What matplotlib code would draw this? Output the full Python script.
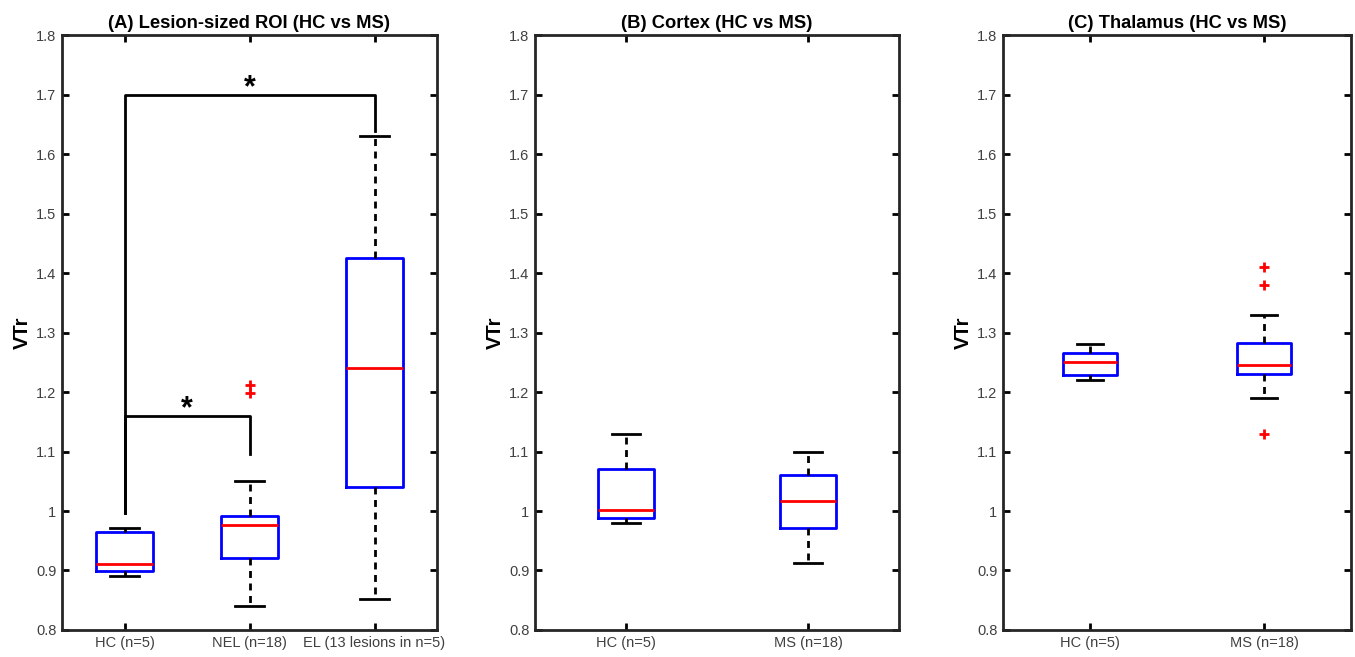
import matplotlib
matplotlib.use("Agg")
import matplotlib.pyplot as plt

plt.rcParams['font.family'] = ['Liberation Sans', 'DejaVu Sans']

# panel A: lesion-sized ROI
a_labels = ["HC (n=5)", "NEL (n=18)", "EL (13 lesions in n=5)"]
a_whislo = [0.890, 0.840, 0.852]
a_q1 = [0.899, 0.921, 1.041]
a_med = [0.911, 0.976, 1.240]
a_q3 = [0.964, 0.991, 1.425]
a_whishi = [0.971, 1.050, 1.630]
a_fliers = [[], [1.212, 1.199], []]

# panel B: cortex
b_labels = ["HC (n=5)", "MS (n=18)"]
b_whislo = [0.979, 0.912]
b_q1 = [0.989, 0.972]
b_med = [1.001, 1.016]
b_q3 = [1.070, 1.060]
b_whishi = [1.130, 1.100]
b_fliers = [[], []]

# panel C: thalamus
c_labels = ["HC (n=5)", "MS (n=18)"]
c_whislo = [1.221, 1.190]
c_q1 = [1.228, 1.231]
c_med = [1.251, 1.245]
c_q3 = [1.266, 1.282]
c_whishi = [1.280, 1.330]
c_fliers = [[], [1.410, 1.380, 1.130]]

# significance brackets in panel A: (x1, x2, bar height, left foot, right foot)
brackets = [(1, 3, 1.70, 0.996, 1.638), (1, 2, 1.160, 0.996, 1.095)]

titles = ["(A) Lesion-sized ROI (HC vs MS)", "(B) Cortex (HC vs MS)", "(C) Thalamus (HC vs MS)"]

fig = plt.figure(figsize=(13.55, 6.57), dpi=100)
rects = [[62/1355, 0.0411, 375/1355, 0.9056],
         [535/1355, 0.0411, 364/1355, 0.9056],
         [1003/1355, 0.0411, 348/1355, 0.9056]]

panels = [
    (a_labels, a_whislo, a_q1, a_med, a_q3, a_whishi, a_fliers, 0.46),
    (b_labels, b_whislo, b_q1, b_med, b_q3, b_whishi, b_fliers, 0.31),
    (c_labels, c_whislo, c_q1, c_med, c_q3, c_whishi, c_fliers, 0.31),
]

axes = []
for k, (labels, lo, q1, med, q3, hi, fl, w) in enumerate(panels):
    ax = fig.add_axes(rects[k])
    stats = []
    for i in range(len(labels)):
        stats.append({"label": labels[i], "whislo": lo[i], "q1": q1[i], "med": med[i],
                      "q3": q3[i], "whishi": hi[i], "fliers": fl[i]})
    ax.bxp(stats, positions=range(1, len(labels) + 1), widths=w,
           boxprops=dict(color="#0000ff", linewidth=2),
           medianprops=dict(color="#ff0000", linewidth=2),
           whiskerprops=dict(color="black", linewidth=2, linestyle=(0, (2.5, 2.0))),
           capprops=dict(color="black", linewidth=2),
           flierprops=dict(marker="+", markeredgecolor="#ff0000", markersize=7, markeredgewidth=2,
                           linestyle="none"),
           capwidths=w * 0.5)
    ax.set_xlim(0.5, len(labels) + 0.5)
    ax.set_ylim(0.8, 1.8)
    ax.set_yticks([0.8, 0.9, 1.0, 1.1, 1.2, 1.3, 1.4, 1.5, 1.6, 1.7, 1.8])
    ax.set_yticklabels(["0.8", "0.9", "1", "1.1", "1.2", "1.3", "1.4", "1.5", "1.6", "1.7", "1.8"])
    ax.set_xticks(range(1, len(labels) + 1))
    ax.set_xticklabels(labels)
    ax.tick_params(direction="in", length=5, width=2, top=True, right=True,
                   labelsize=10.5, labelcolor="#404040", pad=4)
    for sp in ax.spines.values():
        sp.set_linewidth(2)
        sp.set_color("#262626")
    ax.set_title(titles[k], fontsize=13.2, fontweight="bold", pad=5)
    ax.set_ylabel("VTr", fontsize=14.5, fontweight="bold", labelpad=3)
    axes.append(ax)

ax = axes[0]
for x1, x2, h, f1, f2 in brackets:
    ax.plot([x1, x1, x2, x2], [f1, h, h, f2], color="black", linewidth=2)
    ax.text((x1 + x2) / 2, h - 0.014, "*", ha="center", va="bottom", fontsize=22, fontweight="bold")

fig.savefig("out.png", dpi=100)
